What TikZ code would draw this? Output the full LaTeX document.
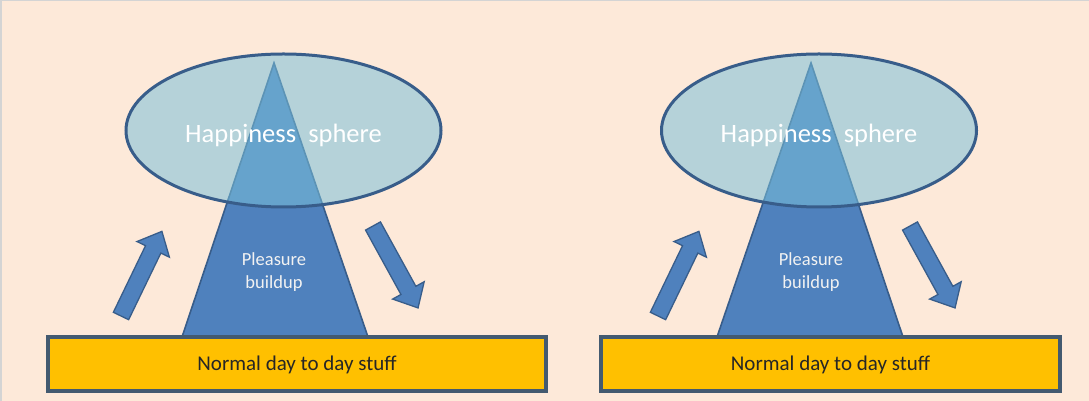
\documentclass[tikz,border=0pt]{standalone}
\usepackage{fontspec}
\setmainfont{Carlito}
\usetikzlibrary{shapes.geometric}
\definecolor{bgc}{HTML}{FDE9D9}
\definecolor{trifill}{HTML}{4F81BD}
\definecolor{edgec}{HTML}{385D8A}
\definecolor{ellfill}{RGB}{122,192,218}
\definecolor{barfill}{HTML}{FFC000}
\definecolor{baredge}{HTML}{435A70}
\definecolor{framec}{HTML}{D4D4D4}
\tikzset{
  sphere/.style={ellipse, draw=edgec, line width=3pt, fill=ellfill, fill opacity=0.55, draw opacity=1,
    minimum width=315pt, minimum height=153pt, inner sep=0pt},
  spheretext/.style={text=white, inner sep=0pt, font=\fontsize{26.5}{28}\selectfont},
  cone/.style={fill=trifill, draw=edgec, line width=1.6pt, line join=miter},
  buildtext/.style={text=white!95!black, align=center, font=\fontsize{18.5}{23}\selectfont},
  daybar/.style={rectangle, draw=baredge, line width=3.2pt, fill=barfill, minimum height=54pt, inner sep=0pt},
  daytext/.style={text=black!85, inner sep=0pt, font=\fontsize{21}{23}\selectfont},
  blockarrow/.style={fill=trifill, draw=edgec, line width=1.3pt, line join=miter}
}
\newcommand{\myblockarrow}[4]{% tail x, tail y, angle, length
  \begin{scope}[shift={(#1,#2)}, rotate=#3]
    \path[blockarrow] (0,-8.5) -- ({#4-20},-8.5) -- ({#4-20},-18) -- (#4,0) -- ({#4-20},18) -- ({#4-20},8.5) -- (0,8.5) -- cycle;
  \end{scope}}
\begin{document}
\begin{tikzpicture}[x=1pt,y=1pt]
\useasboundingbox (0,0) rectangle (1089,401);
\fill[bgc] (0,0) rectangle (1089,401);
\draw[framec, line width=1.5pt] (0.75,0) -- (0.75,400.25) -- (1089,400.25);

% ---------- left diagram ----------
\coordinate (LA) at (274,338);
\coordinate (LB) at (182,64);
\coordinate (LC) at (368,64);
\path[cone] (LA) -- (LB) -- (LC) -- cycle;
\node[buildtext] (Lbuild) at (274,129) {Pleasure\\buildup};
\node[sphere] (Lsphere) at (283.5,270.5) {};
\node[spheretext] (Lstext) at (283.5,266) {Happiness\hspace{0.23em} sphere};
\node[daybar, minimum width=498pt] (Lbar) at (297,37) {};
\node[daytext] (Ltext) at (297,36.5) {Normal day to day stuff};
\myblockarrow{121}{85}{64.2}{94}
\myblockarrow{373}{175}{-61.2}{93.5}

% ---------- right diagram ----------
\coordinate (RA) at (811,338);
\coordinate (RB) at (717,64);
\coordinate (RC) at (903,64);
\path[cone] (RA) -- (RB) -- (RC) -- cycle;
\node[buildtext] (Rbuild) at (811,129) {Pleasure\\buildup};
\node[sphere] (Rsphere) at (819,270.5) {};
\node[spheretext] (Rstext) at (819,266) {Happiness\hspace{0.23em} sphere};
\node[daybar, minimum width=459pt] (Rbar) at (830.5,37) {};
\node[daytext] (Rtext) at (830.5,36.5) {Normal day to day stuff};
\myblockarrow{658}{85}{64.2}{94}
\myblockarrow{910}{175}{-61.2}{93.5}
\end{tikzpicture}
\end{document}
